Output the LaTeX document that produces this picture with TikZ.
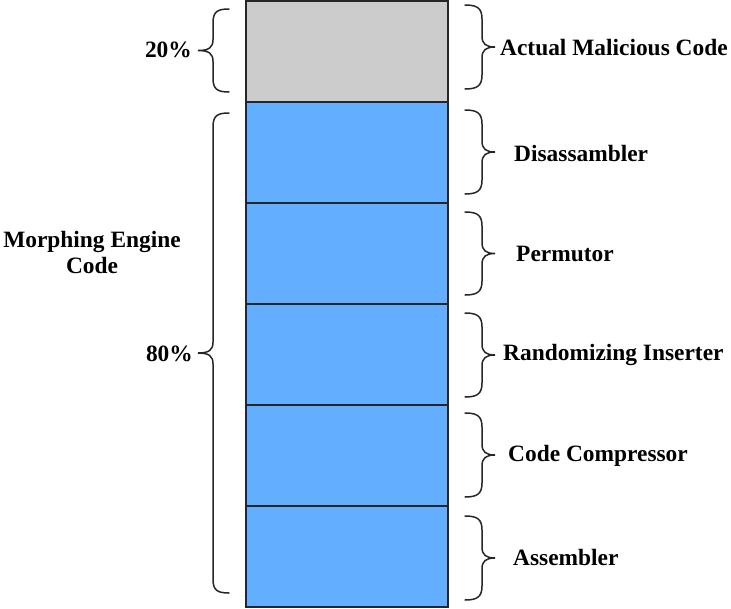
\documentclass[tikz,border=0pt]{standalone}
\usepackage{fontspec}
\setmainfont{Liberation Serif}
\begin{document}
\begin{tikzpicture}[x=1pt,y=-1pt,
  block/.style={draw=black!85,line width=1.7pt,minimum width=202pt,minimum height=101.1pt,inner sep=0pt},
  malicious/.style={block,fill=codegray},
  engine/.style={block,fill=engineblue},
  bracepath/.style={draw=black!85,line width=1.5pt,line cap=round},
  lbl/.style={font=\fontsize{23.4}{26}\selectfont\bfseries,inner sep=0pt,text=black}
]
\definecolor{codegray}{RGB}{204,204,204}
\definecolor{engineblue}{RGB}{99,174,255}
\useasboundingbox (0,0) rectangle (731,608);

% the stacked code column
\node[malicious] (mal) at (347,51.2) {};
\node[engine] (dis) at (347,152.3) {};
\node[engine] (per) at (347,253.4) {};
\node[engine] (ran) at (347,354.5) {};
\node[engine] (com) at (347,455.6) {};
\node[engine] (asm) at (347,556.7) {};

% right-hand brace: #1 top, #2 bottom
\newcommand{\rightbrace}[2]{%
  \pgfmathsetmacro{\mid}{(#1+#2)/2}%
  \draw[bracepath] (465,#1) .. controls (477,#1) and (482,#1+3) .. (482,#1+14)
    -- (482,\mid-11) .. controls (482,\mid-3) and (486,\mid) .. (495,\mid)
    .. controls (486,\mid) and (482,\mid+3) .. (482,\mid+11)
    -- (482,#2-14) .. controls (482,#2-3) and (477,#2) .. (465,#2);}
% left-hand brace: #1 top, #2 bottom
\newcommand{\leftbrace}[2]{%
  \pgfmathsetmacro{\mid}{(#1+#2)/2}%
  \draw[bracepath] (229,#1) .. controls (217,#1) and (213,#1+3) .. (213,#1+14)
    -- (213,\mid-11) .. controls (213,\mid-3) and (209,\mid) .. (198,\mid)
    .. controls (209,\mid) and (213,\mid+3) .. (213,\mid+11)
    -- (213,#2-14) .. controls (213,#2-3) and (217,#2) .. (229,#2);}

\rightbrace{5}{89}
\rightbrace{110}{194}
\rightbrace{212}{295}
\rightbrace{313}{397}
\rightbrace{413}{497}
\rightbrace{516}{600}

\leftbrace{9}{92}
\leftbrace{113}{593}

% labels
\node[lbl,anchor=west] (tmal) at (500,48) {Actual Malicious Code};
\node[lbl,anchor=west] (tdis) at (514,153) {Disassambler};
\node[lbl,anchor=west] (tper) at (516,254) {Permutor};
\node[lbl,anchor=west] (tran) at (503,355) {Randomizing Inserter};
\node[lbl,anchor=west] (tcom) at (508,456) {Code Compressor};
\node[lbl,anchor=west] (tasm) at (513,557) {Assembler};

\node[lbl,anchor=east] (p20) at (192,50) {20\%};
\node[lbl,anchor=east] (p80) at (193,354) {80\%};
\node[lbl,align=center,anchor=north] (meng) at (92,231) {Morphing Engine\\Code};
\end{tikzpicture}
\end{document}
